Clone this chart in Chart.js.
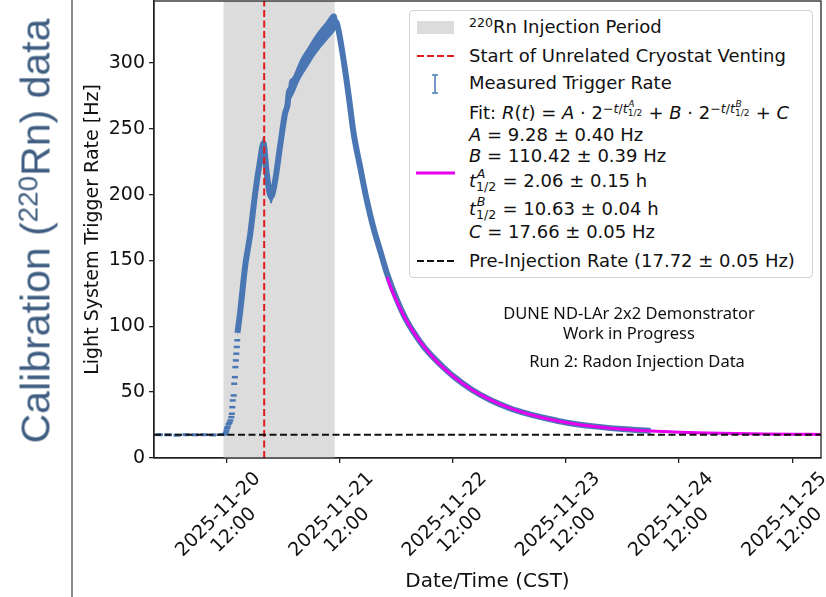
<!DOCTYPE html>
<html>
<head>
<meta charset="utf-8">
<script src="https://cdn.jsdelivr.net/npm/chart.js@4.4.0/dist/chart.umd.min.js"></script>
<style>
  body { margin: 0; width: 826px; height: 597px; position: relative; overflow: hidden; background: #fff; }
  #c { position: absolute; left: 0; top: 0; }
  .slide-title { position: absolute; left: 36px; top: 231px; transform: translate(-50%, -50%) rotate(-90deg);
    white-space: nowrap; font: 41px "Liberation Sans", Arial, sans-serif; color: #3f5d80; line-height: 1; }
  .slide-title .up { position: relative; top: -0.42em; font-size: 0.68em; }
  .vline { position: absolute; left: 71px; top: 0; width: 1.5px; height: 597px; background: #8c8c8c; }
  .lg-box { position: absolute; left: 409px; top: 10px; width: 402px; height: 266px; border: 1px solid #d0d0d0;
    border-radius: 4px; background: #fff; }
  .row { position: absolute; left: 469px; height: 22px; line-height: 22px; font: 18px "DejaVu Sans"; color: #111; white-space: nowrap; }
  .up { position: relative; top: -0.45em; font-size: 0.7em; }
  .ss { display: inline-block; position: relative; width: 1.65em; height: 0; font-size: 0.7em; }
  .ss .a { position: absolute; left: 0.05em; bottom: 0.49em; line-height: 1; }
  .ss .b { position: absolute; left: 0; top: -0.49em; line-height: 1; }
  .up .ss { font-size: 0.72em; }
  .note { position: absolute; transform: translate(-50%, -50%); white-space: nowrap; font: 16.5px "Noto Sans"; color: #111; }
  #handles { position: absolute; left: 0; top: 0; }
</style>
</head>
<body>
<canvas id="c" width="826" height="597"></canvas>

<div class="slide-title">Calibration (<span class="up">220</span>Rn) data</div>
<div class="vline"></div>

<div class="lg-box"></div>
<svg id="handles" width="826" height="597">
  <rect x="417" y="21" width="37" height="13" fill="#dcdcdc"/>
  <line x1="417" y1="56" x2="454" y2="56" stroke="#e01b1b" stroke-width="2" stroke-dasharray="7 3"/>
  <line x1="435" y1="75" x2="435" y2="93" stroke="#4a77b4" stroke-width="1.5"/>
  <line x1="432" y1="75" x2="438" y2="75" stroke="#4a77b4" stroke-width="1.5"/>
  <line x1="432" y1="93" x2="438" y2="93" stroke="#4a77b4" stroke-width="1.5"/>
  <line x1="416" y1="173" x2="455" y2="173" stroke="#e600ee" stroke-width="3"/>
  <line x1="417" y1="261" x2="454" y2="261" stroke="#111" stroke-width="2" stroke-dasharray="7 3"/>
</svg>
<div class="row" style="top:16px"><span class="up">220</span>Rn Injection Period</div>
<div class="row" style="top:45px">Start of Unrelated Cryostat Venting</div>
<div class="row" style="top:72px">Measured Trigger Rate</div>
<div class="row" style="top:102px">Fit: <i>R</i>(<i>t</i>) = <i>A</i> · 2<span class="up">−<i>t</i>/<i>t</i><span class="ss"><span class="a"><i>A</i></span><span class="b">1/2</span></span></span> + <i>B</i> · 2<span class="up">−<i>t</i>/<i>t</i><span class="ss"><span class="a"><i>B</i></span><span class="b">1/2</span></span></span> + <i>C</i></div>
<div class="row" style="top:124px"><i>A</i> = 9.28 ± 0.40 Hz</div>
<div class="row" style="top:145px"><i>B</i> = 110.42 ± 0.39 Hz</div>
<div class="row" style="top:170px"><i>t</i><span class="ss"><span class="a"><i>A</i></span><span class="b">1/2</span></span> = 2.06 ± 0.15 h</div>
<div class="row" style="top:198px"><i>t</i><span class="ss"><span class="a"><i>B</i></span><span class="b">1/2</span></span> = 10.63 ± 0.04 h</div>
<div class="row" style="top:221px"><i>C</i> = 17.66 ± 0.05 Hz</div>
<div class="row" style="top:250px">Pre-Injection Rate (17.72 ± 0.05 Hz)</div>

<div class="note" style="left:629px; top:312px">DUNE ND-LAr 2x2 Demonstrator</div>
<div class="note" style="left:629px; top:332px">Work in Progress</div>
<div class="note" style="left:637px; top:360px">Run 2: Radon Injection Data</div>

<script>
// hours are measured from 2025-11-20 12:00 CST
const injectionStart = -0.57;
const injectionEnd = 23.0;
const ventingStart = 8.06;
const preInjectionRate = 17.72;
const xMin = -15.3, xMax = 126.1, yMax = 347;

const xTickHours = [0, 24, 48, 72, 96, 120];
const xTickLabels = [
  ['2025-11-20', '12:00'], ['2025-11-21', '12:00'], ['2025-11-22', '12:00'],
  ['2025-11-23', '12:00'], ['2025-11-24', '12:00'], ['2025-11-25', '12:00']
];
const yTicks = [0, 50, 100, 150, 200, 250, 300];

// flat pre-injection measurements
const preHours = [-14.2, -12.3, -10.4, -8.5, -6.6, -4.7, -2.8, -0.9];
const preRate  = [17.7, 17.6, 17.3, 17.7, 17.6, 17.7, 17.5, 17.8];

// sparse points at the start of the injection
const riseHours = [-0.3, -0.1, 0.05, 0.15, 0.3, 0.5, 0.7, 0.9, 1.1, 1.2, 1.3, 1.4, 1.6, 1.7, 1.85, 1.95, 2.05, 2.15, 2.25, 2.35];
const riseRate  = [18.0, 18.9, 20.5, 22.4, 23.4, 25.5, 26.8, 28.5, 31.0, 33.6, 38.6, 43.7, 47.5, 56.4, 61.4, 69.0, 74.1, 79.2, 84.3, 89.4];

// dense measured rate (centre) and its spread
const rateHours = [2.4, 3.0, 4.0, 5.1, 6.15, 7.2, 7.9, 8.6, 9.5, 10.4, 11.4, 12.5, 13.0, 13.3, 13.9, 15.7, 17.4, 19.2, 21.0, 22.7,
  23.3, 23.8, 24.9, 25.9, 27.0, 28.4, 29.8, 31.2, 32.6, 34.1, 36.2, 38, 40, 42, 44, 46, 48, 52, 56, 60, 64, 68, 72, 78, 84, 90];
const rate = [95, 112, 145, 170, 201, 226, 239, 216, 198, 211, 236, 262, 268, 278, 281, 295, 305, 315, 323, 330,
  331, 325, 302, 277, 247, 221, 196, 175, 158, 140, 120, 106, 94, 84, 76, 69, 62.5, 52, 44, 38, 33.5, 30, 27, 24, 22, 20.5];
const rateErr = [4, 5, 5, 5, 5, 5, 5, 5, 5, 5, 5, 6, 6, 7.5, 7.5, 7.5, 7.5, 7.5, 7.5, 7.5,
  6, 5, 4, 4, 4, 4, 4, 3.5, 3, 2.5, 2, 1.8, 1.5, 1.4, 1.2, 1.2, 1.1, 1, 0.9, 0.8, 0.7, 0.6, 0.5, 0.5, 0.5, 0.5];

// fit curve
const fitHours = [34.1, 35, 36, 38, 40, 42, 44, 46, 48, 50, 52, 55, 58, 62, 66, 70, 75, 80, 85, 90, 96, 102, 108, 114, 120, 126.1];
const fitRate  = [137.4, 128.6, 120.2, 105.8, 94.1, 84.2, 75.8, 68.6, 62.4, 56.9, 52.0, 46.0, 40.9, 35.6, 31.5, 28.3, 25.3,
  23.2, 21.7, 20.5, 19.6, 19.0, 18.55, 18.26, 18.07, 17.93];

const blue = '#4a77b4';
const pts = (xs, ys) => xs.map((x, i) => ({ x, y: ys[i] }));

const shading = {
  id: 'shading',
  beforeDatasetsDraw(chart) {
    const { ctx, chartArea: a, scales: { x } } = chart;
    const x0 = x.getPixelForValue(injectionStart), x1 = x.getPixelForValue(injectionEnd);
    ctx.save();
    ctx.fillStyle = '#dcdcdc';
    ctx.fillRect(x0, a.top, x1 - x0, a.bottom - a.top);
    ctx.restore();
  }
};

const frameAndLabels = {
  id: 'frameAndLabels',
  afterDraw(chart) {
    const { ctx, chartArea: a, scales: { x } } = chart;
    ctx.save();
    ctx.strokeStyle = '#222';
    ctx.lineWidth = 1.3;
    ctx.strokeRect(a.left, a.top, a.right - a.left, a.bottom - a.top);

    // rotated two-line date labels, centred under each tick like matplotlib
    ctx.font = '19px "DejaVu Sans"';
    ctx.fillStyle = '#111';
    ctx.textAlign = 'center';
    ctx.textBaseline = 'middle';
    const lh = 22, top = a.bottom + 10;
    xTickHours.forEach((h, i) => {
      const lines = xTickLabels[i];
      const w = Math.max(...lines.map(s => ctx.measureText(s).width));
      const bh = lh * lines.length;
      const px = x.getPixelForValue(h);
      const cy = top + Math.SQRT1_2 * (w + bh) / 2;
      ctx.save();
      ctx.translate(px, cy);
      ctx.rotate(-Math.PI / 4);
      lines.forEach((s, j) => ctx.fillText(s, 0, (j - (lines.length - 1) / 2) * lh));
      ctx.restore();
    });
    ctx.restore();
  }
};

// no extra room for end labels, so the plot box sits where the reference has it
const noEdgePadding = s => { s.paddingTop = 0; s.paddingBottom = 0; s.paddingLeft = 0; s.paddingRight = 0; };

const upper = rate.map((v, i) => v + rateErr[i]);
const lower = rate.map((v, i) => v - rateErr[i]);

new Chart(document.getElementById('c'), {
  type: 'line',
  data: {
    datasets: [
      { data: [{ x: xMin, y: preInjectionRate }, { x: xMax, y: preInjectionRate }], borderColor: '#111', borderWidth: 2,
        borderDash: [7, 3.5], pointRadius: 0, order: 0 },
      { data: [{ x: ventingStart, y: 0 }, { x: ventingStart, y: yMax }], borderColor: '#e01b1b', borderWidth: 2,
        borderDash: [7, 3.5], pointRadius: 0, order: 1 },
      { data: pts(fitHours, fitRate), borderColor: '#e600ee', borderWidth: 3, pointRadius: 0,
        cubicInterpolationMode: 'monotone', order: 2 },
      { data: pts(rateHours, rate), borderColor: blue, borderWidth: 6, pointRadius: 0,
        cubicInterpolationMode: 'monotone', order: 3 },
      { data: pts(rateHours, upper), borderWidth: 0, pointRadius: 0, fill: '+1', backgroundColor: blue,
        cubicInterpolationMode: 'monotone', order: 4 },
      { data: pts(rateHours, lower), borderWidth: 0, pointRadius: 0, fill: false,
        cubicInterpolationMode: 'monotone', order: 4 },
      { data: pts(preHours, preRate), showLine: false, pointStyle: 'line', pointRadius: 3.6, pointBorderWidth: 3,
        pointBorderColor: blue, order: 3 },
      { data: pts(riseHours, riseRate), showLine: false, pointStyle: 'line', pointRadius: 3, pointBorderWidth: 2.5,
        pointBorderColor: blue, order: 3 }
    ]
  },
  options: {
    responsive: false,
    animation: false,
    devicePixelRatio: 1,
    layout: { autoPadding: false, padding: { left: 80, right: 5, top: 1, bottom: 0 } },
    plugins: { legend: { display: false }, tooltip: { enabled: false } },
    scales: {
      x: {
        type: 'linear', min: xMin, max: xMax,
        afterBuildTicks: s => { s.ticks = xTickHours.map(v => ({ value: v })); },
        afterFit: s => { s.height = 139; noEdgePadding(s); },
        ticks: { display: false },
        grid: { drawOnChartArea: false, drawTicks: true, tickLength: 5, color: '#222', lineWidth: 1.3 },
        border: { color: '#222', width: 1.3 },
        title: { display: true, text: 'Date/Time (CST)', color: '#111',
          font: { family: 'DejaVu Sans', size: 20 }, padding: { top: 0, bottom: 3 } }
      },
      y: {
        min: 0, max: yMax,
        afterBuildTicks: s => { s.ticks = yTicks.map(v => ({ value: v })); },
        afterFit: s => { s.width = 74; noEdgePadding(s); },
        ticks: { color: '#111', padding: 4, font: { family: 'DejaVu Sans', size: 19 } },
        grid: { drawOnChartArea: false, drawTicks: true, tickLength: 5, color: '#222', lineWidth: 1.3 },
        border: { color: '#222', width: 1.3 },
        title: { display: true, text: 'Light System Trigger Rate [Hz]', color: '#111',
          font: { family: 'DejaVu Sans', size: 19 }, padding: { top: 2, bottom: 0 } }
      }
    }
  },
  plugins: [shading, frameAndLabels]
});
</script>
</body>
</html>
